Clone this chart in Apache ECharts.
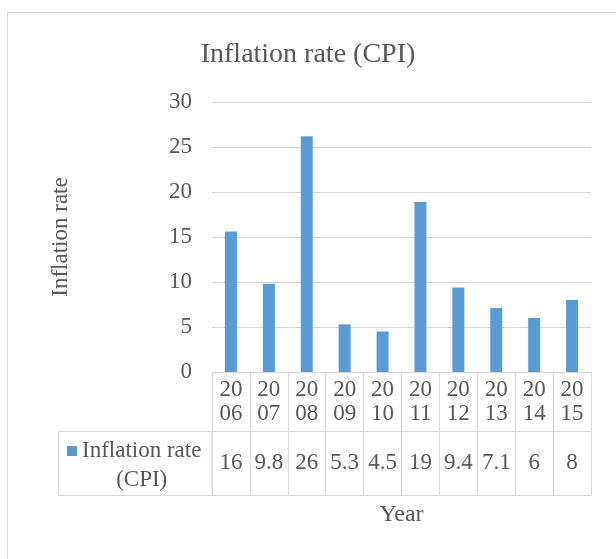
<!DOCTYPE html>
<html>
<head>
<meta charset="utf-8">
<script src="https://cdn.jsdelivr.net/npm/echarts@6/dist/echarts.min.js"></script>
<style>
  html, body { margin: 0; padding: 0; background: #fff; }
  #chart { width: 616px; height: 559px; }
</style>
</head>
<body>
<div id="chart"></div>
<script>
  // data
  let years = ['2006', '2007', '2008', '2009', '2010', '2011', '2012', '2013', '2014', '2015'];
  let cpiValues = [15.6, 9.8, 26.2, 5.3, 4.5, 18.9, 9.4, 7.1, 6.0, 8.0];
  let yTicks = [0, 5, 10, 15, 20, 25, 30];

  let font = 'Liberation Serif';
  let textColor = '#595959';
  let lineColor = '#d9d9d9';

  let chartDom = document.getElementById('chart');
  let myChart = echarts.init(chartDom);
  let option = {
    animation: false,
    title: {
      text: 'Inflation rate (CPI)',
      left: 'center',
      top: 36,
      textStyle: {
        color: textColor,
        fontFamily: font,
        fontWeight: 'normal',
        fontSize: 28
      }
    },
    legend: {
      data: ['Inflation rate (CPI)'],
      left: 67,
      top: 439,
      padding: 0,
      icon: 'rect',
      itemWidth: 10,
      itemHeight: 10,
      formatter: function () {
        return '{a|Inflation rate}\n{b|(CPI)}';
      },
      textStyle: {
        color: textColor,
        fontFamily: font,
        fontSize: 23,
        padding: [28, 0, 0, 0],
        rich: {
          a: { fontFamily: font, fontSize: 23, color: textColor, lineHeight: 29, align: 'center' },
          b: { fontFamily: font, fontSize: 23, color: textColor, lineHeight: 29, align: 'center' }
        }
      }
    },
    graphic: [
      {
        // chart area border
        type: 'rect',
        silent: true,
        shape: { x: 7.5, y: 12.5, width: 700, height: 600 },
        style: { fill: null, stroke: lineColor, lineWidth: 1 }
      },
      {
        // legend cell of the data table
        type: 'rect',
        silent: true,
        shape: { x: 58.5, y: 431.5, width: 153.5, height: 64 },
        style: { fill: null, stroke: lineColor, lineWidth: 1 }
      }
    ],
    grid: {
      left: 212,
      right: 25,
      top: 102,
      bottom: 187,
      containLabel: false
    },
    xAxis: [
      {
        type: 'category',
        data: years,
        position: 'bottom',
        name: 'Year',
        nameLocation: 'middle',
        nameGap: 131,
        nameTextStyle: { color: textColor, fontFamily: font, fontSize: 24 },
        axisLine: { show: true, lineStyle: { color: lineColor, width: 1 } },
        axisTick: { show: true, length: 123, lineStyle: { color: lineColor } },
        axisLabel: {
          interval: 0,
          margin: 6,
          color: textColor,
          fontFamily: font,
          fontSize: 23,
          lineHeight: 24,
          formatter: function (v) { return v.slice(0, 2) + '\n' + v.slice(2); }
        }
      },
      {
        // value row of the data table
        type: 'category',
        data: years,
        position: 'bottom',
        offset: 59,
        axisLine: { show: true, lineStyle: { color: lineColor, width: 1 } },
        axisTick: { show: false },
        axisLabel: {
          interval: 0,
          margin: 20,
          color: textColor,
          fontFamily: font,
          fontSize: 23,
          formatter: function (v, i) { return String(Number(cpiValues[i].toPrecision(2))); }
        }
      },
      {
        // bottom edge of the data table
        type: 'category',
        data: years,
        position: 'bottom',
        offset: 123,
        axisLine: { show: true, lineStyle: { color: lineColor, width: 1 } },
        axisTick: { show: false },
        axisLabel: { show: false }
      }
    ],
    yAxis: {
      type: 'value',
      min: yTicks[0],
      max: yTicks[yTicks.length - 1],
      interval: 5,
      name: 'Inflation rate',
      nameLocation: 'middle',
      nameRotate: 90,
      nameGap: 140,
      nameTextStyle: { color: textColor, fontFamily: font, fontSize: 23 },
      axisLine: { show: false },
      axisTick: { show: false },
      axisLabel: { margin: 20, color: textColor, fontFamily: font, fontSize: 23 },
      splitLine: { lineStyle: { color: lineColor, width: 1 } }
    },
    series: [
      {
        name: 'Inflation rate (CPI)',
        type: 'bar',
        xAxisIndex: 0,
        barWidth: 12,
        data: cpiValues,
        itemStyle: { color: '#5b9bd5' }
      }
    ]
  };
  myChart.setOption(option);
  window.onresize = myChart.resize;
</script>
</body>
</html>
